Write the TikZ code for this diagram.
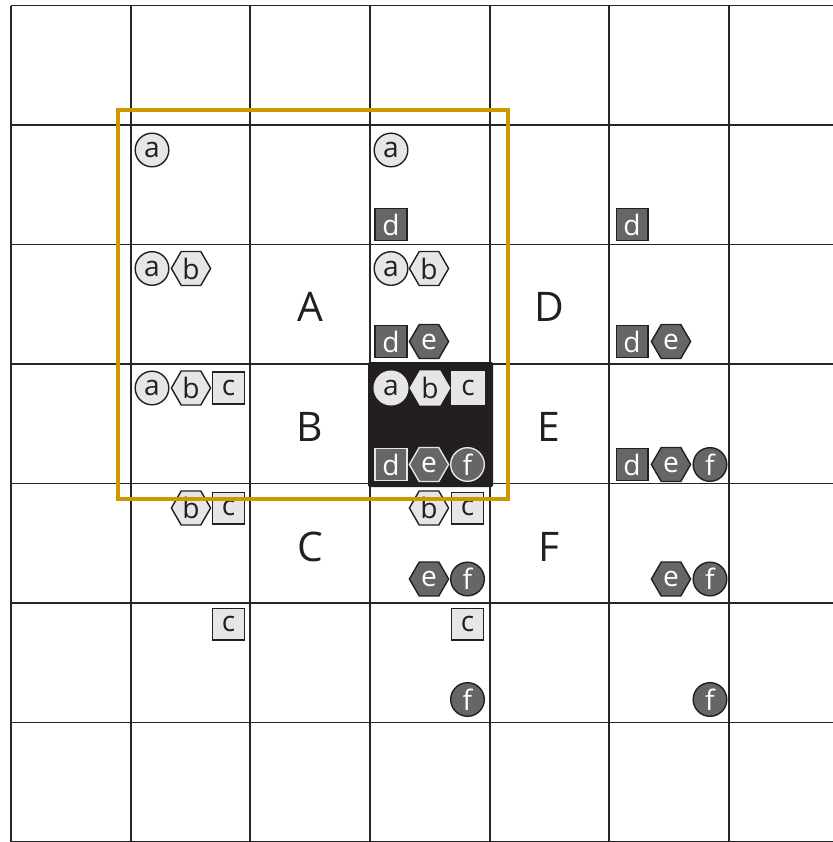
\documentclass[tikz,border=0pt]{standalone}
\usepackage{fontspec}
\setmainfont{Open Sans}
\usetikzlibrary{shapes.geometric}
\definecolor{gold}{RGB}{204,153,0}
\definecolor{ink}{RGB}{35,31,32}
\definecolor{lightfill}{RGB}{230,230,230}
\definecolor{darkfill}{RGB}{102,102,102}
\tikzset{
  badge/.style={inner sep=0pt,line width=1pt,draw=ink,font=\fontsize{20}{20}\selectfont},
  light/.style={badge,fill=lightfill,text=ink},
  dark/.style={badge,fill=darkfill,text=white},
  cbadge/.style={circle,minimum size=0.84cm},
  hbadge/.style={regular polygon,regular polygon sides=6,minimum size=0.98cm},
  sbadge/.style={rectangle,minimum size=0.79cm},
  ka/.style={light,cbadge},
  kb/.style={light,hbadge},
  kc/.style={light,sbadge},
  kd/.style={dark,sbadge},
  ke/.style={dark,hbadge},
  kf/.style={dark,cbadge},
  onblack/.style={draw=lightfill},
  cellname/.style={font=\fontsize{29}{29}\selectfont,text=ink},
  gridline/.style={line width=1.3pt,black!85}
}
\begin{document}
\begin{tikzpicture}[x=0.025cm,y=-0.025cm]
  \useasboundingbox (0,0) rectangle (833,842);
  \clip (0,0) rectangle (833,842);
  \foreach \i in {0,...,6}
    \draw[gridline] (11+119.67*\i,5.5) -- (11+119.67*\i,842);
  \foreach \i in {0,...,7}
    \draw[gridline] (11,5.5+119.5*\i) -- (833,5.5+119.5*\i);
  \fill[ink,rounded corners=1pt] (368,362) rectangle (493,487);

  \node[cellname] (cellA) at (310,307) {A};
  \node[cellname] (cellB) at (310,427) {B};
  \node[cellname] (cellC) at (310,547) {C};
  \node[cellname] (cellD) at (549,307) {D};
  \node[cellname] (cellE) at (549,427) {E};
  \node[cellname] (cellF) at (549,547) {F};

  \node[ka] (a11) at (152,150) {a};
  \node[ka] (a13) at (391,150) {a};
  \node[kd] (d13) at (391,224.5) {d};
  \node[kd] (d15) at (632,224.5) {d};

  \node[ka] (a21) at (152,268.5) {a};
  \node[kb] (b21) at (191,268.5) {b};
  \node[ka] (a23) at (391,268.5) {a};
  \node[kb] (b23) at (429,268.5) {b};
  \node[kd] (d23) at (391,341.5) {d};
  \node[ke] (e23) at (429,341.5) {e};
  \node[kd] (d25) at (632,341.5) {d};
  \node[ke] (e25) at (671,341.5) {e};

  \node[ka] (a31) at (152,388) {a};
  \node[kb] (b31) at (191,388) {b};
  \node[kc] (c31) at (228.5,388) {c};
  \node[ka,onblack] (a33) at (391,388) {a};
  \node[kb,onblack] (b33) at (430,388) {b};
  \node[kc,onblack] (c33) at (468,388) {c};
  \node[kd,onblack] (d33) at (391,464.5) {d};
  \node[ke,onblack] (e33) at (429,464.5) {e};
  \node[kf,onblack] (f33) at (467.5,464.5) {f};
  \node[kd] (d35) at (632,464.5) {d};
  \node[ke] (e35) at (671,464.5) {e};
  \node[kf] (f35) at (710,464.5) {f};

  \node[kb] (b41) at (191,508) {b};
  \node[kc] (c41) at (228.5,508) {c};
  \node[kb] (b43) at (429,508) {b};
  \node[kc] (c43) at (467.5,508) {c};
  \node[ke] (e43) at (429,579) {e};
  \node[kf] (f43) at (467.5,579) {f};
  \node[ke] (e45) at (671,579) {e};
  \node[kf] (f45) at (710,579) {f};

  \node[kc] (c51) at (228.5,624) {c};
  \node[kc] (c53) at (467.5,624) {c};
  \node[kf] (f53) at (467.5,699.5) {f};
  \node[kf] (f55) at (710,699.5) {f};

  \draw[gold,line width=3.2pt] (118,110) rectangle (508,499);
\end{tikzpicture}
\end{document}
